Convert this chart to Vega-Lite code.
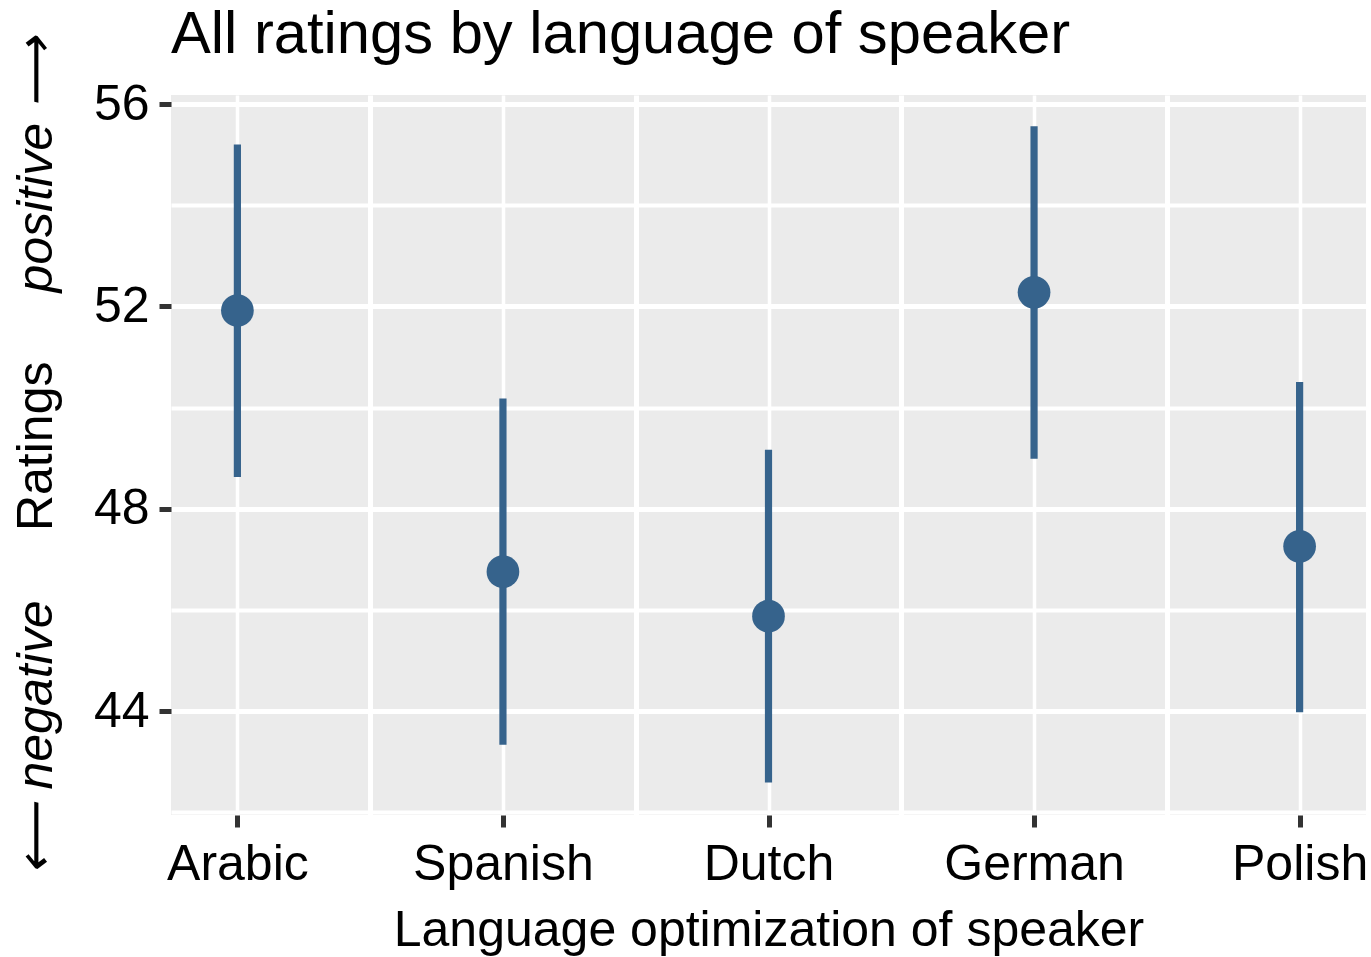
{
  "$schema": "https://vega.github.io/schema/vega-lite/v6.json",
  "width": 1195,
  "height": 720,
  "autosize": {"type": "none"},
  "padding": {"left": 171, "top": 95, "right": 5, "bottom": 142},
  "background": "white",
  "config": {
    "view": {"fill": "#EBEBEB", "stroke": null},
    "font": "Liberation Sans",
    "axis": {"labelFont": "Liberation Sans", "titleFont": "Liberation Sans"}
  },
  "title": {
    "text": "All ratings by language of speaker",
    "anchor": "start",
    "frame": "group",
    "fontSize": 59.7,
    "fontWeight": "normal",
    "color": "black",
    "font": "Liberation Sans",
    "baseline": "alphabetic",
    "offset": -76
  },
  "data": {
    "values": [
      {"language": "Arabic", "mean": 51.92, "lo": 48.63, "hi": 55.2},
      {"language": "Spanish", "mean": 46.76, "lo": 43.34, "hi": 50.18},
      {"language": "Dutch", "mean": 45.88, "lo": 42.59, "hi": 49.17},
      {"language": "German", "mean": 52.28, "lo": 48.99, "hi": 55.56},
      {"language": "Polish", "mean": 47.26, "lo": 43.98, "hi": 50.51}
    ]
  },
  "layer": [
    {
      "mark": {"type": "rule", "strokeWidth": 7.2, "color": "#36638C"},
      "encoding": {
        "x": {
          "field": "language",
          "type": "nominal",
          "sort": ["Arabic", "Spanish", "Dutch", "German", "Polish"],
          "scale": {"type": "point", "padding": 0.25},
          "axis": {
            "orient": "bottom",
            "title": "Language optimization of speaker",
            "titleFontSize": 50,
            "titleFontWeight": "normal",
            "titleColor": "black",
            "titleBaseline": "alphabetic",
            "titleY": 130,
            "labelAngle": 0,
            "labelFontSize": 50,
            "labelColor": "black",
            "labelPadding": 12,
            "labelLimit": 0,
            "labelOverlap": false,
            "tickSize": 12,
            "tickWidth": 5,
            "tickColor": "#333333",
            "domain": false,
            "grid": true,
            "gridColor": "white",
            "gridWidth": 3.5
          }
        },
        "y": {
          "field": "lo",
          "type": "quantitative",
          "scale": {"domain": [41.95, 56.18], "nice": false, "zero": false},
          "axis": {
            "orient": "left",
            "values": [42, 44, 46, 48, 50, 52, 54, 56],
            "labelExpr": "datum.value % 4 === 0 ? datum.label : ''",
            "tickOpacity": {"condition": {"test": "datum.value % 4 !== 0", "value": 0}, "value": 1},
            "gridWidth": {"condition": {"test": "datum.value % 4 === 0", "value": 5}, "value": 4},
            "grid": true,
            "gridColor": "white",
            "domain": false,
            "tickSize": 12,
            "tickWidth": 5,
            "tickColor": "#333333",
            "labelFontSize": 50,
            "labelColor": "black",
            "labelPadding": 10,
            "title": "Ratings",
            "titleFontSize": 50,
            "titleFontWeight": "normal",
            "titleColor": "black",
            "titleAngle": -90,
            "titleAlign": "center",
            "titleBaseline": "alphabetic",
            "titleX": -119.3,
            "titleY": 350.8
          }
        },
        "y2": {"field": "hi"}
      }
    },
    {
      "mark": {"type": "point", "filled": true, "size": 1070, "opacity": 1, "color": "#36638C"},
      "encoding": {
        "x": {
          "field": "language",
          "type": "nominal",
          "sort": ["Arabic", "Spanish", "Dutch", "German", "Polish"],
          "axis": {
            "orient": "bottom",
            "labels": false,
            "ticks": false,
            "domain": false,
            "title": null,
            "grid": true,
            "gridColor": "white",
            "gridWidth": 5,
            "tickOffset": 132.8
          }
        },
        "y": {
          "field": "mean",
          "type": "quantitative",
          "axis": {
            "orient": "left",
            "labels": false,
            "ticks": false,
            "domain": false,
            "grid": false,
            "title": "positive ⟶",
            "titleFontSize": 50,
            "titleFontWeight": "normal",
            "titleFontStyle": "italic",
            "titleColor": "black",
            "titleAngle": -90,
            "titleAlign": "left",
            "titleBaseline": "alphabetic",
            "titleX": -119.3,
            "titleY": 197
          }
        }
      }
    },
    {
      "mark": {"type": "point", "opacity": 0},
      "encoding": {
        "x": {
          "field": "language",
          "type": "nominal",
          "sort": ["Arabic", "Spanish", "Dutch", "German", "Polish"],
          "axis": null
        },
        "y": {
          "field": "mean",
          "type": "quantitative",
          "axis": {
            "orient": "left",
            "labels": false,
            "ticks": false,
            "domain": false,
            "grid": false,
            "title": "⟵ negative",
            "titleFontSize": 50,
            "titleFontWeight": "normal",
            "titleFontStyle": "italic",
            "titleColor": "black",
            "titleAngle": -90,
            "titleAlign": "right",
            "titleBaseline": "alphabetic",
            "titleX": -119.3,
            "titleY": 505
          }
        }
      }
    }
  ],
  "resolve": {"axis": {"x": "independent", "y": "independent"}}
}
